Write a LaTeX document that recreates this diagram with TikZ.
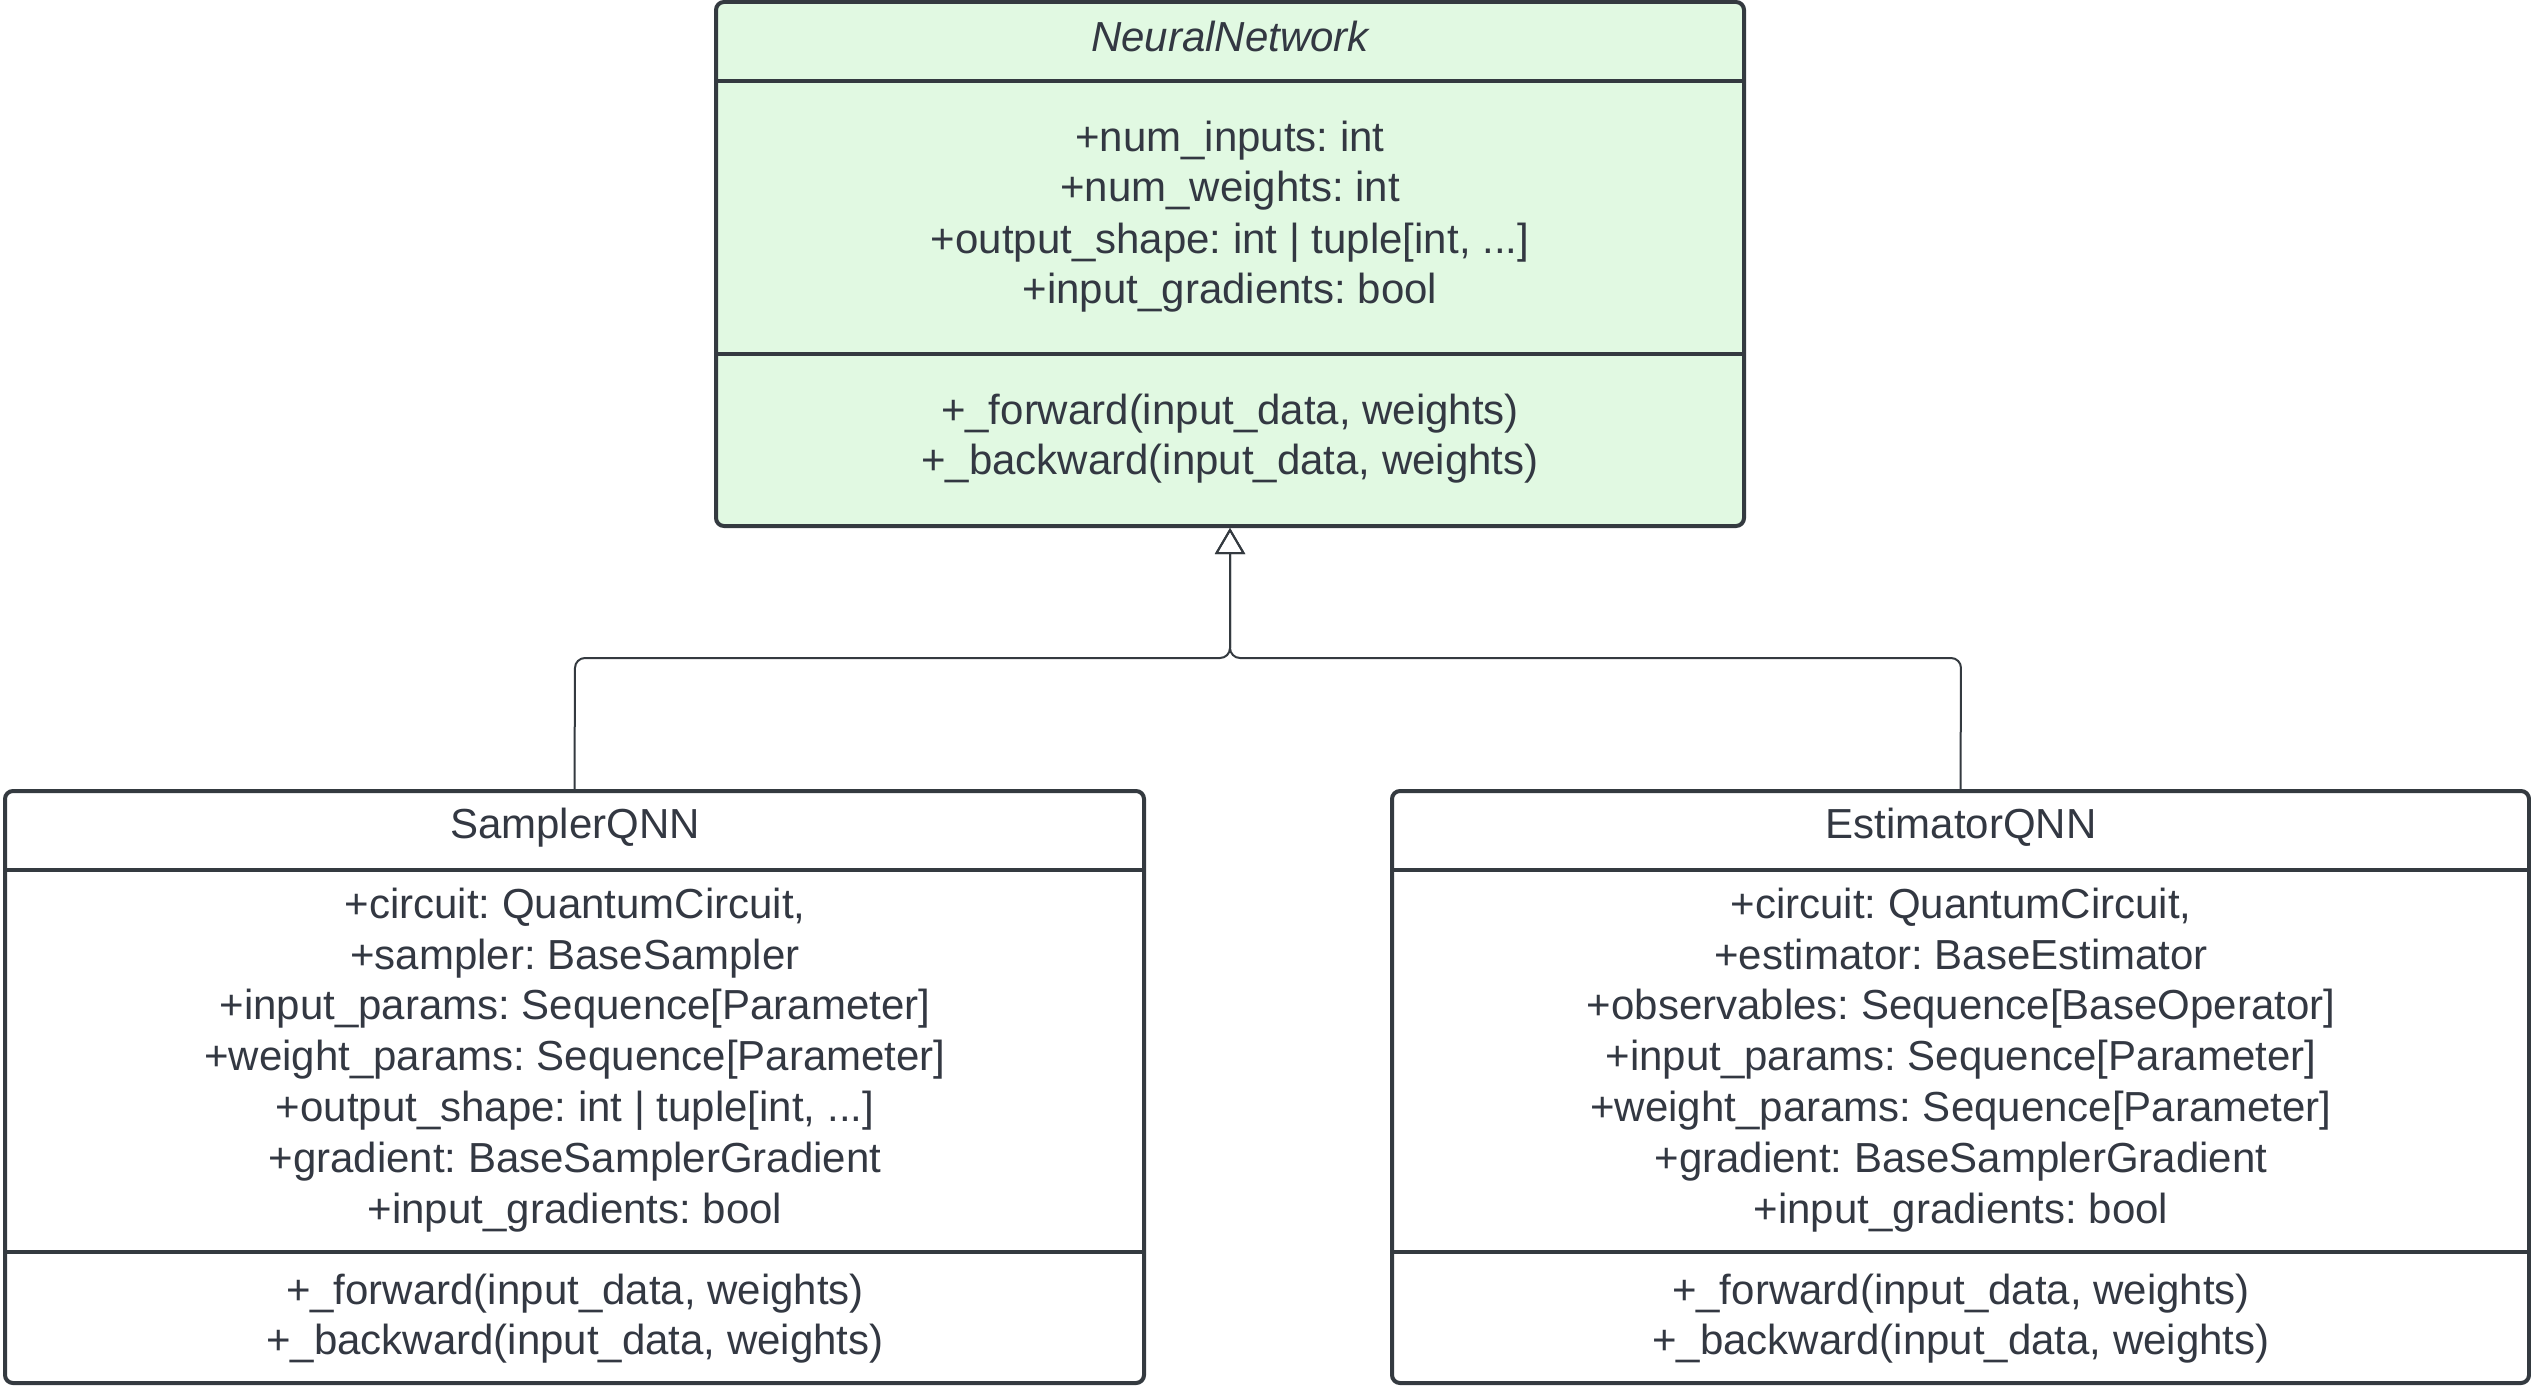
\documentclass[tikz,border=0pt]{standalone}
\usepackage{fontspec}
\setmainfont{Liberation Sans}
\usetikzlibrary{arrows.meta}
\definecolor{txt}{HTML}{333842}
\definecolor{bord}{HTML}{343A40}
\definecolor{nnfill}{HTML}{E1F9E2}
\frenchspacing
\begin{document}
\begin{tikzpicture}[x=0.5pt,y=-0.5pt,
  classbox/.style={draw=bord, line width=2pt, rounded corners=4pt, inner sep=0pt, outer sep=0pt},
  divider/.style={draw=bord, line width=2pt},
  lbl/.style={text=txt, font=\fontsize{21}{25.5}\selectfont\frenchspacing, inner sep=0pt, anchor=base},
  conn/.style={draw=bord, line width=1pt, rounded corners=5pt},
  gen/.style={-{Triangle[open, length=13pt, width=15pt, line width=1pt]}}]
\useasboundingbox (0,0) rectangle (2531,1386);

% NeuralNetwork
\node[classbox, fill=nnfill, minimum width=514pt, minimum height=262pt] (nn) at (1230,264) {};
\draw[divider] (716,81) -- (1744,81);
\draw[divider] (716,354) -- (1744,354);
\node[lbl, font=\fontsize{21}{25.5}\selectfont\itshape] (nnt) at (1230,52) {NeuralNetwork};
\node[lbl] (nna1) at (1230,151) {+num\_inputs: int};
\node[lbl] (nna2) at (1230,201) {+num\_weights: int};
\node[lbl] (nna3) at (1230,253) {+output\_shape: int | tuple[int, ...]};
\node[lbl] (nna4) at (1230,303) {+input\_gradients: bool};
\node[lbl] (nnm1) at (1230,424) {+\_forward(input\_data, weights)};
\node[lbl] (nnm2) at (1230,474) {+\_backward(input\_data, weights)};

% SamplerQNN
\node[classbox, fill=white, minimum width=569.5pt, minimum height=296pt] (sq) at (574.5,1087) {};
\draw[divider] (5,870) -- (1144,870);
\draw[divider] (5,1252) -- (1144,1252);
\node[lbl] (sqt) at (575,838) {SamplerQNN};
\node[lbl] (sqa1) at (575,918) {+circuit: QuantumCircuit,};
\node[lbl] (sqa2) at (575,969) {+sampler: BaseSampler};
\node[lbl] (sqa3) at (575,1019) {+input\_params: Sequence[Parameter]};
\node[lbl] (sqa4) at (575,1070) {+weight\_params: Sequence[Parameter]};
\node[lbl] (sqa5) at (575,1121) {+output\_shape: int | tuple[int, ...]};
\node[lbl] (sqa6) at (575,1172) {+gradient: BaseSamplerGradient};
\node[lbl] (sqa7) at (575,1223) {+input\_gradients: bool};
\node[lbl] (sqm1) at (575,1304) {+\_forward(input\_data, weights)};
\node[lbl] (sqm2) at (575,1354) {+\_backward(input\_data, weights)};

% EstimatorQNN
\node[classbox, fill=white, minimum width=568.5pt, minimum height=296pt] (eq) at (1960.5,1087) {};
\draw[divider] (1391,870) -- (2530,870);
\draw[divider] (1391,1252) -- (2530,1252);
\node[lbl] (eqt) at (1961,838) {EstimatorQNN};
\node[lbl] (eqa1) at (1961,918) {+circuit: QuantumCircuit,};
\node[lbl] (eqa2) at (1961,969) {+estimator: BaseEstimator};
\node[lbl] (eqa3) at (1961,1019) {+observables: Sequence[BaseOperator]};
\node[lbl] (eqa4) at (1961,1070) {+input\_params: Sequence[Parameter]};
\node[lbl] (eqa5) at (1961,1121) {+weight\_params: Sequence[Parameter]};
\node[lbl] (eqa6) at (1961,1172) {+gradient: BaseSamplerGradient};
\node[lbl] (eqa7) at (1961,1223) {+input\_gradients: bool};
\node[lbl] (eqm1) at (1961,1304) {+\_forward(input\_data, weights)};
\node[lbl] (eqm2) at (1961,1354) {+\_backward(input\_data, weights)};

% generalisation connectors
\coordinate (tip) at (1230,528);
\draw[conn, gen] (sq.north) -- (575,658) -- (1230,658) -- (tip);
\draw[conn, gen] (eq.north) -- (1961,658) -- (1230,658) -- (tip);
\end{tikzpicture}
\end{document}
